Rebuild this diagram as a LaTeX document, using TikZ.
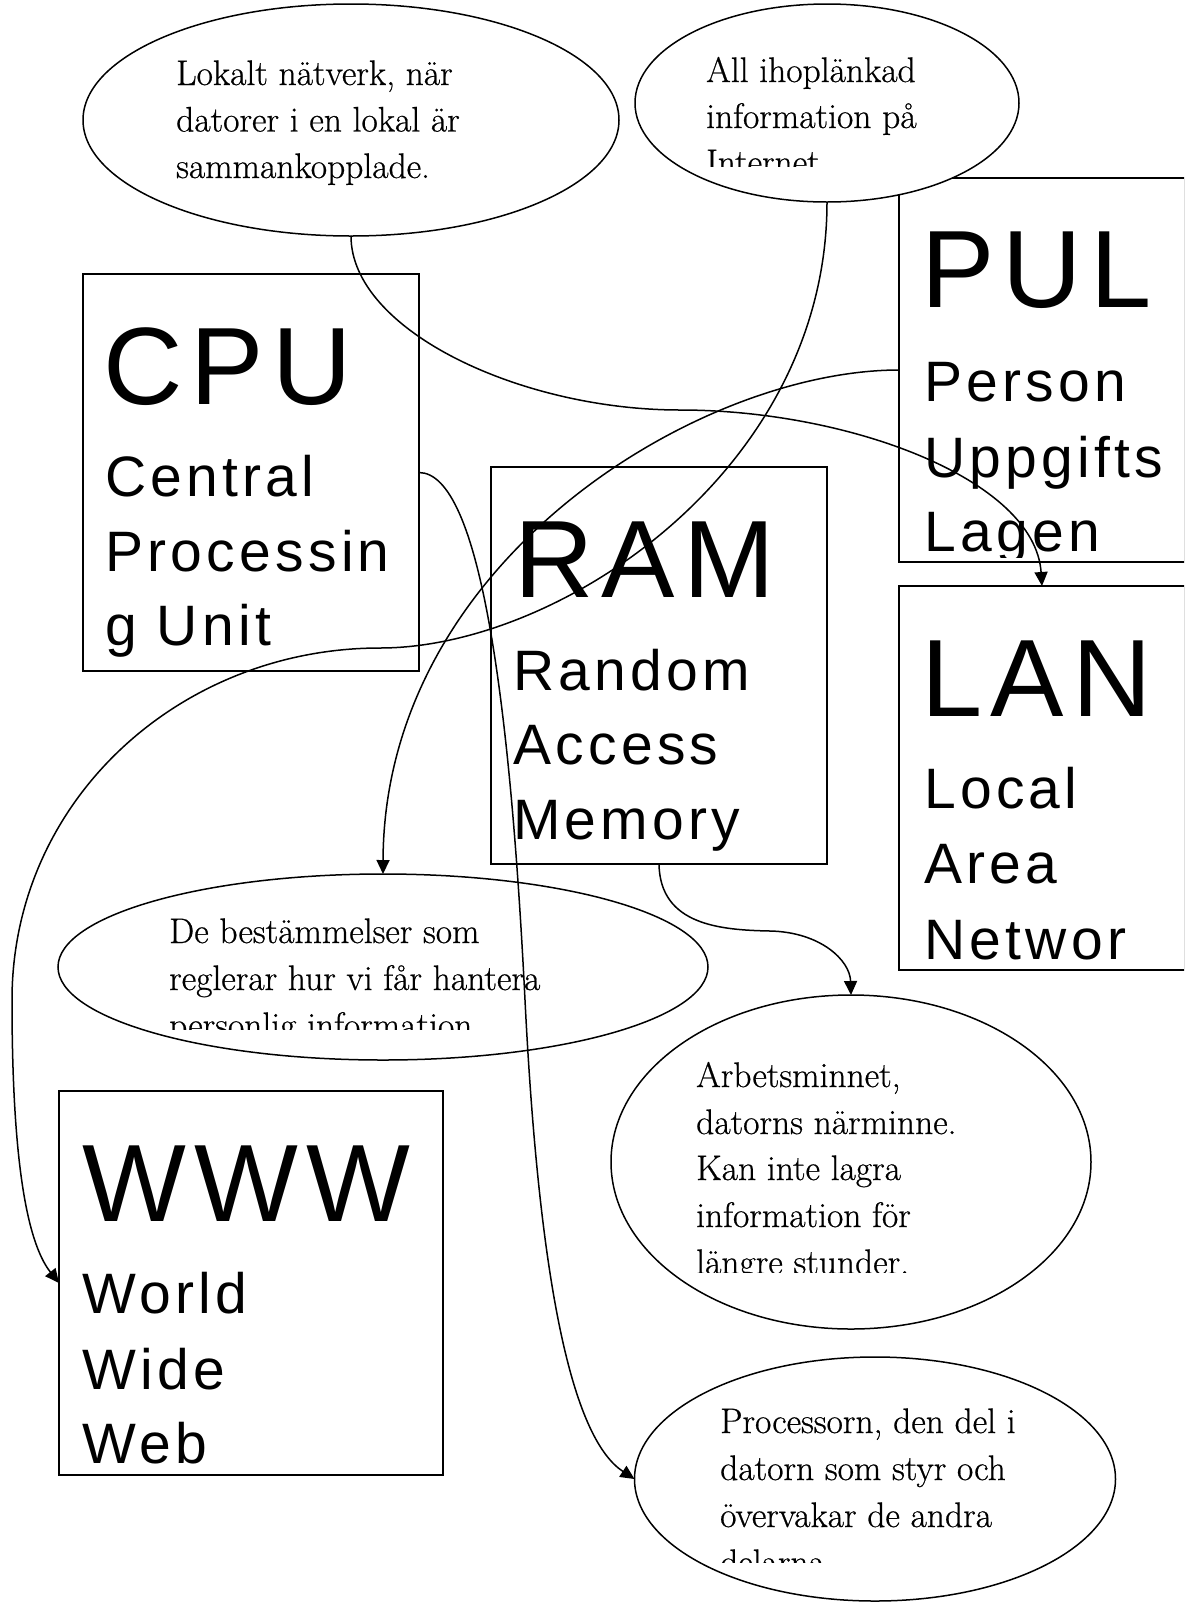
\documentclass[tikz,border=0pt]{standalone}
\usepackage{fontspec}
\usetikzlibrary{shapes.geometric,arrows.meta}
\newfontfamily\boxfont[LetterSpace=7.5]{Liberation Sans}
\newfontfamily\serfont[FakeBold=0.6]{Latin Modern Roman}
\tikzset{
 box/.style={draw, line width=1.5pt, inner sep=0pt, outer sep=0pt},
 oval/.style={ellipse, draw, fill=white, line width=1.5pt, inner sep=0pt, outer sep=0pt},
 conn/.style={line width=1.5pt, -{Triangle[length=14pt,width=13pt]}},
 big/.style={anchor=base west, inner sep=0pt, font=\boxfont\fontsize{110}{110}\selectfont},
 sml/.style={anchor=base west, inner sep=0pt, font=\boxfont\fontsize{57}{57}\selectfont},
 ser/.style={anchor=base west, inner sep=0pt, font=\serfont\fontsize{35.5}{35.5}\selectfont},
}
\begin{document}
\begin{tikzpicture}[x=1pt,y=-1pt]
\useasboundingbox (0,0) rectangle (1184,1604);
\clip (0,0) rectangle (1184,1604);
% boxes
\node[box, minimum width=336pt, minimum height=397pt] (cpu) at (251,472.5) {};
\node[box, minimum width=336pt, minimum height=397pt] (ram) at (659,665.5) {};
\node[box, minimum width=286pt, minimum height=384pt] (pul) at (1042,370) {};
\node[box, minimum width=286pt, minimum height=384pt] (lan) at (1042,778) {};
\node[box, minimum width=384pt, minimum height=384pt] (www) at (251,1283) {};
% ellipses
\node[oval, minimum width=536pt, minimum height=232pt] (ela) at (351,120) {};
\node[oval, minimum width=384pt, minimum height=198pt] (elb) at (827,103) {};
\node[oval, minimum width=650pt, minimum height=186pt] (elc) at (383,967) {};
\node[oval, minimum width=480pt, minimum height=334pt] (eld) at (851,1162) {};
\node[oval, minimum width=481pt, minimum height=244pt] (ele) at (875,1479) {};
% box texts
\begin{scope}
\clip (83,274) rectangle (419,667);
\node[big] (tcpu) at (103,404) {CPU};
\node[sml] (tcpu1) at (105,496) {Central};
\node[sml] (tcpu2) at (105,571) {Processin};
\node[sml] (tcpu3) at (105,645) {g Unit};
\end{scope}
\begin{scope}
\clip (491,467) rectangle (827,860);
\node[big] (tram) at (514,597) {RAM};
\node[sml] (tram1) at (513,690) {Random};
\node[sml] (tram2) at (513,764) {Access};
\node[sml] (tram3) at (513,839) {Memory};
\end{scope}
\begin{scope}
\clip (899,178) rectangle (1185,557);
\node[big] (tpul) at (921,307) {PUL};
\node[sml] (tpul1) at (924,401) {Person};
\node[sml] (tpul2) at (924,477) {Uppgifts};
\node[sml] (tpul3) at (924,551) {Lagen};
\end{scope}
\begin{scope}
\clip (899,586) rectangle (1185,966);
\node[big] (tlan) at (921,716) {LAN};
\node[sml] (tlan1) at (924,808) {Local};
\node[sml] (tlan2) at (924,883) {Area};
\node[sml] (tlan3) at (924,959) {Networ};
\end{scope}
\begin{scope}
\clip (59,1091) rectangle (443,1471);
\node[big] (twww) at (82,1221) {WWW};
\node[sml] (twww1) at (82,1313) {World};
\node[sml] (twww2) at (82,1389) {Wide};
\node[sml] (twww3) at (82,1463) {Web};
\end{scope}
% ellipse texts
\node[ser] (ta1) at (176,85) {Lokalt nätverk, när};
\node[ser] (ta2) at (176,131.5) {datorer i en lokal är};
\node[ser] (ta3) at (176,178) {sammankopplade.};
\begin{scope}
\clip (0,0) rectangle (1184,166);
\node[ser] (tb1) at (706,82) {All ihoplänkad};
\node[ser] (tb2) at (706,128) {information på};
\node[ser] (tb3) at (706,174) {Internet};
\end{scope}
\begin{scope}
\clip (0,880) rectangle (1184,1029);
\node[ser] (tc1) at (169,943) {De bestämmelser som};
\node[ser] (tc2) at (169,990) {reglerar hur vi får hantera};
\node[ser] (tc3) at (169,1037) {personlig information.};
\end{scope}
\begin{scope}
\clip (0,1000) rectangle (1184,1272);
\node[ser] (td1) at (696,1087) {Arbetsminnet,};
\node[ser] (td2) at (696,1134) {datorns närminne.};
\node[ser] (td3) at (696,1180) {Kan inte lagra};
\node[ser] (td4) at (696,1227) {information för};
\node[ser] (td5) at (696,1274) {längre stunder.};
\end{scope}
\begin{scope}
\clip (0,1395) rectangle (1184,1562);
\node[ser] (te1) at (720,1433) {Processorn, den del i};
\node[ser] (te2) at (720,1480) {datorn som styr och};
\node[ser] (te3) at (720,1527) {övervakar de andra};
\node[ser] (te4) at (720,1574) {delarna.};
\end{scope}
% connectors
\draw[conn] (ela.south) .. controls (351,330) and (520,410) .. (680,410)
  .. controls (850,410) and (1035,480) .. (lan.north);
\draw[conn] (elb.south) .. controls (827,470) and (560,648) .. (380,648)
  .. controls (180,648) and (12,800) .. (12,1000)
  .. controls (12,1150) and (25,1240) .. (www.west);
\draw[conn] (pul.west) .. controls (700,370) and (384,560) .. (elc.north);
\draw[conn] (cpu.east) .. controls (480,473) and (510,700) .. (525,1000)
  .. controls (540,1300) and (575,1440) .. (ele.west);
\draw[conn] (ram.south) .. controls (660,925) and (720,930) .. (770,931)
  .. controls (820,932) and (850,960) .. (eld.north);
\end{tikzpicture}
\end{document}
